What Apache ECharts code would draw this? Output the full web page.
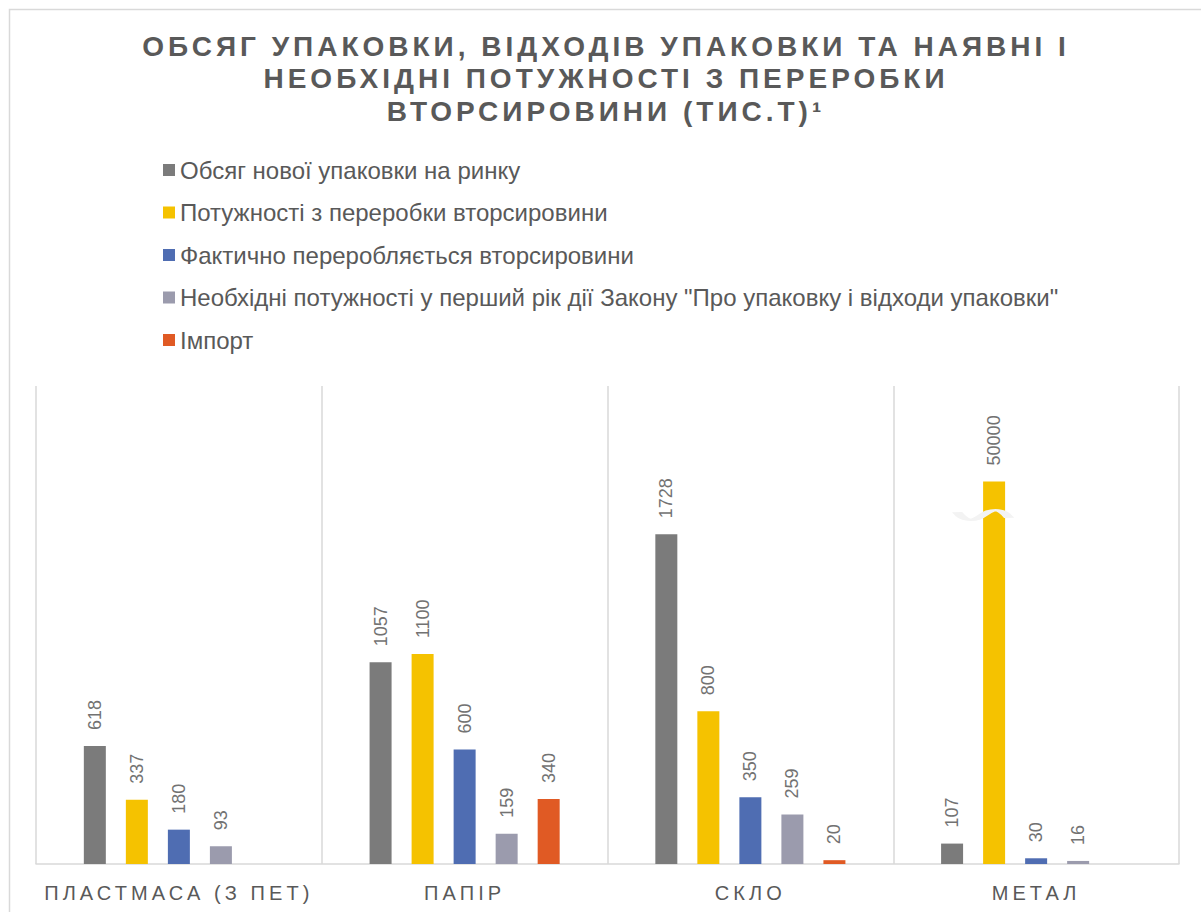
<!DOCTYPE html>
<html>
<head>
<meta charset="utf-8">
<script src="https://cdn.jsdelivr.net/npm/echarts@6/dist/echarts.min.js"></script>
<style>
html,body{margin:0;padding:0;background:#fff;}
#c{width:1201px;height:912px;}
</style>
</head>
<body>
<div id="c"></div>
<script>
const categories = ['ПЛАСТМАСА (З ПЕТ)', 'ПАПІР', 'СКЛО', 'МЕТАЛ'];
const seriesNames = [
  'Обсяг нової упаковки на ринку',
  'Потужності з переробки вторсировини',
  'Фактично переробляється вторсировини',
  'Необхідні потужності у перший рік дії Закону "Про упаковку і відходи упаковки"',
  'Імпорт'
];
const newPackaging = [618, 1057, 1728, 107];
const recyclingCapacity = [337, 1100, 800, 50000];
const actuallyRecycled = [180, 600, 350, 30];
const requiredCapacity = [93, 159, 259, 16];
const importVol = [null, 340, 20, null];
const titleLines = ['ОБСЯГ УПАКОВКИ, ВІДХОДІВ УПАКОВКИ ТА НАЯВНІ І', 'НЕОБХІДНІ ПОТУЖНОСТІ З ПЕРЕРОБКИ', 'ВТОРСИРОВИНИ (ТИС.Т)¹'];
const colors = ['#7b7b7b', '#f5c200', '#4f6db2', '#9b9bad', '#e05a24'];
const axisBreak = {start: 1850, end: 49870};

const FONT = '"Liberation Sans", Arial, sans-serif';
const chart = echarts.init(document.getElementById('c'), null, {renderer: 'svg'});

const allData = [newPackaging, recyclingCapacity, actuallyRecycled, requiredCapacity, importVol];
const series = allData.map((d, i) => {
  const s = {
    name: seriesNames[i],
    type: 'bar',
    data: d,
    barWidth: 22,
    barGap: '91%',
    itemStyle: {color: colors[i]},
    label: {
      show: true,
      position: 'top',
      rotate: 90,
      align: 'left',
      verticalAlign: 'middle',
      distance: 16,
      color: '#727272',
      fontSize: 18,
      fontFamily: FONT
    }
  };
  // wavy break marker on bars that cross the axis break
  const broken = d.map((v, j) => v != null && v > axisBreak.end ? j : -1).filter(j => j >= 0);
  if (broken.length) {
    s.markPoint = {
      silent: true,
      symbol: 'path://M0 3 C8 10 16 10 26 5 C36 0 44 0 52 7',
      symbolSize: [52, 10],
      symbolKeepAspect: false,
      symbolOffset: [-11, 4],
      itemStyle: {color: 'rgba(0,0,0,0)', borderColor: '#f3f3f3', borderWidth: 4.5},
      label: {show: false},
      data: broken.map(j => ({coord: [categories[j], axisBreak.start]}))
    };
  }
  return s;
});

chart.setOption({
  animation: false,
  backgroundColor: '#fff',
  graphic: [{
    type: 'rect', left: 7, top: 7, z: -10,
    shape: {width: 1300, height: 1000},
    style: {fill: 'none', stroke: '#d9d9d9', lineWidth: 1.5}
  }],
  title: {
    text: titleLines.join('\n'),
    left: 601,
    textAlign: 'center',
    top: 25,
    textStyle: {
      fontFamily: FONT, fontSize: 28, fontWeight: 'bold', color: '#595959', lineHeight: 32.5
    }
  },
  legend: {
    orient: 'vertical',
    left: 158,
    top: 153,
    itemWidth: 12,
    itemHeight: 12,
    itemGap: 18.5,
    icon: 'rect',
    textStyle: {fontFamily: FONT, fontSize: 24, color: '#595959', lineHeight: 24, padding: [0, 0, 0, 0]}
  },
  grid: {left: 36, right: 22, top: 386, bottom: 48, containLabel: false},
  xAxis: {
    type: 'category',
    data: categories,
    axisLine: {show: true, lineStyle: {color: '#d9d9d9', width: 1.5}},
    axisTick: {show: false},
    splitLine: {show: true, lineStyle: {color: '#d9d9d9', width: 1.5}},
    axisLabel: {fontFamily: FONT, fontSize: 20, color: '#595959', margin: 19}
  },
  yAxis: {
    type: 'value',
    min: 0,
    max: 50500,
    axisLabel: {show: false},
    axisLine: {show: false},
    axisTick: {show: false},
    splitLine: {show: false},
    breaks: [{start: axisBreak.start, end: axisBreak.end, gap: '1%'}],
    breakArea: {show: false}
  },
  series: series
});

function spaceText() {
  const texts = document.querySelectorAll('#c svg text');
  texts.forEach(t => {
    const s = t.textContent;
    if (titleLines.indexOf(s) >= 0) t.style.letterSpacing = '4px';
    else if (categories.indexOf(s) >= 0) t.style.letterSpacing = '4.1px';
  });
}
chart.on('finished', spaceText);
spaceText();
</script>
</body>
</html>
